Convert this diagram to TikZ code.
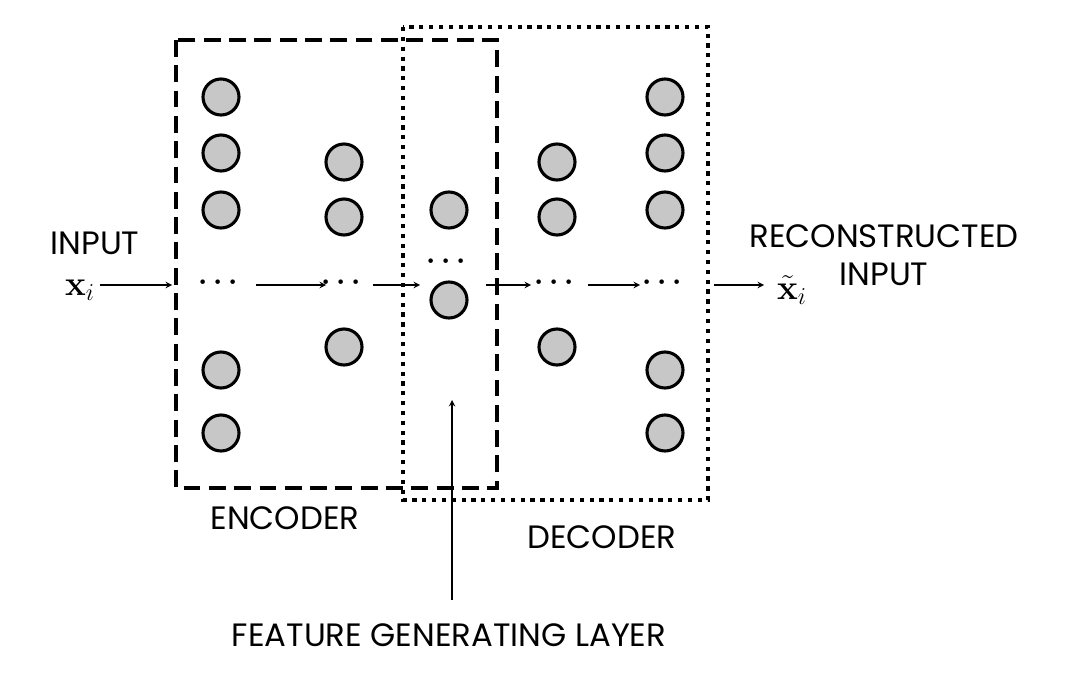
\documentclass[tikz,border=0pt]{standalone}
\usepackage{amsmath}
\usepackage[no-math]{fontspec}
\setmainfont{Poppins}
\begin{document}
\begin{tikzpicture}[x=0.025cm,y=-0.025cm,
  neuron/.style={circle,draw=black,line width=2.2pt,fill=black!22,minimum size=0.9cm,inner sep=0pt},
  lbl/.style={font=\fontsize{23}{27}\selectfont,inner sep=0pt},
  arr/.style={-stealth,line width=1pt},
  dts/.style={font=\fontsize{20}{24}\selectfont,inner sep=0pt}]
\useasboundingbox (0,0) rectangle (1080,676);
\draw[line width=2.2pt,dash pattern=on 12pt off 6pt] (176,40) rectangle (497,488);
\draw[line width=2.2pt,dash pattern=on 3pt off 4pt] (403,27) rectangle (708,500);
\foreach \y [count=\i] in {97,153,210,370,433}{
  \node[neuron] (a\i) at (221,\y) {};
  \node[neuron] (e\i) at (665,\y) {};}
\foreach \y [count=\i] in {162,217,347}{
  \node[neuron] (b\i) at (344,\y) {};
  \node[neuron] (d\i) at (557,\y) {};}
\node[neuron] (c1) at (449,210) {};
\node[neuron] (c2) at (449,300) {};
\node[dts] (da) at (221,283) {$\boldsymbol{\cdots}$};
\node[dts] (db) at (344,283) {$\boldsymbol{\cdots}$};
\node[dts] (dc) at (449,262) {$\boldsymbol{\cdots}$};
\node[dts] (dd) at (557,283) {$\boldsymbol{\cdots}$};
\node[dts] (de) at (665,283) {$\boldsymbol{\cdots}$};
\node[lbl] (inp) at (95,243) {INPUT};
\node[lbl] (x) at (80,290) {$\mathbf{x}_i$};
\node[lbl] (xt) at (792,290) {$\tilde{\mathbf{x}}_i$};
\node[lbl] (rec) at (884,236) {RECONSTRUCTED};
\node[lbl] (rin) at (884,274) {INPUT};
\node[lbl] (enc) at (285,518) {ENCODER};
\node[lbl] (dec) at (602,537) {DECODER};
\node[lbl] (fgl) at (449,635) {FEATURE GENERATING LAYER};
\coordinate (s0) at (100,285); \coordinate (t0) at (172,285);
\coordinate (s1) at (256,285); \coordinate (t1) at (326,285);
\coordinate (s2) at (373,285); \coordinate (t2) at (420,285);
\coordinate (s3) at (486,285); \coordinate (t3) at (531,285);
\coordinate (s4) at (588,285); \coordinate (t4) at (640,285);
\coordinate (s5) at (714,285); \coordinate (t5) at (764,285);
\foreach \i in {0,...,5}{\draw[arr] (s\i) -- (t\i);}
\coordinate (fa) at (452,600); \coordinate (fb) at (452,400);
\draw[arr] (fa) -- (fb);
\end{tikzpicture}
\end{document}
